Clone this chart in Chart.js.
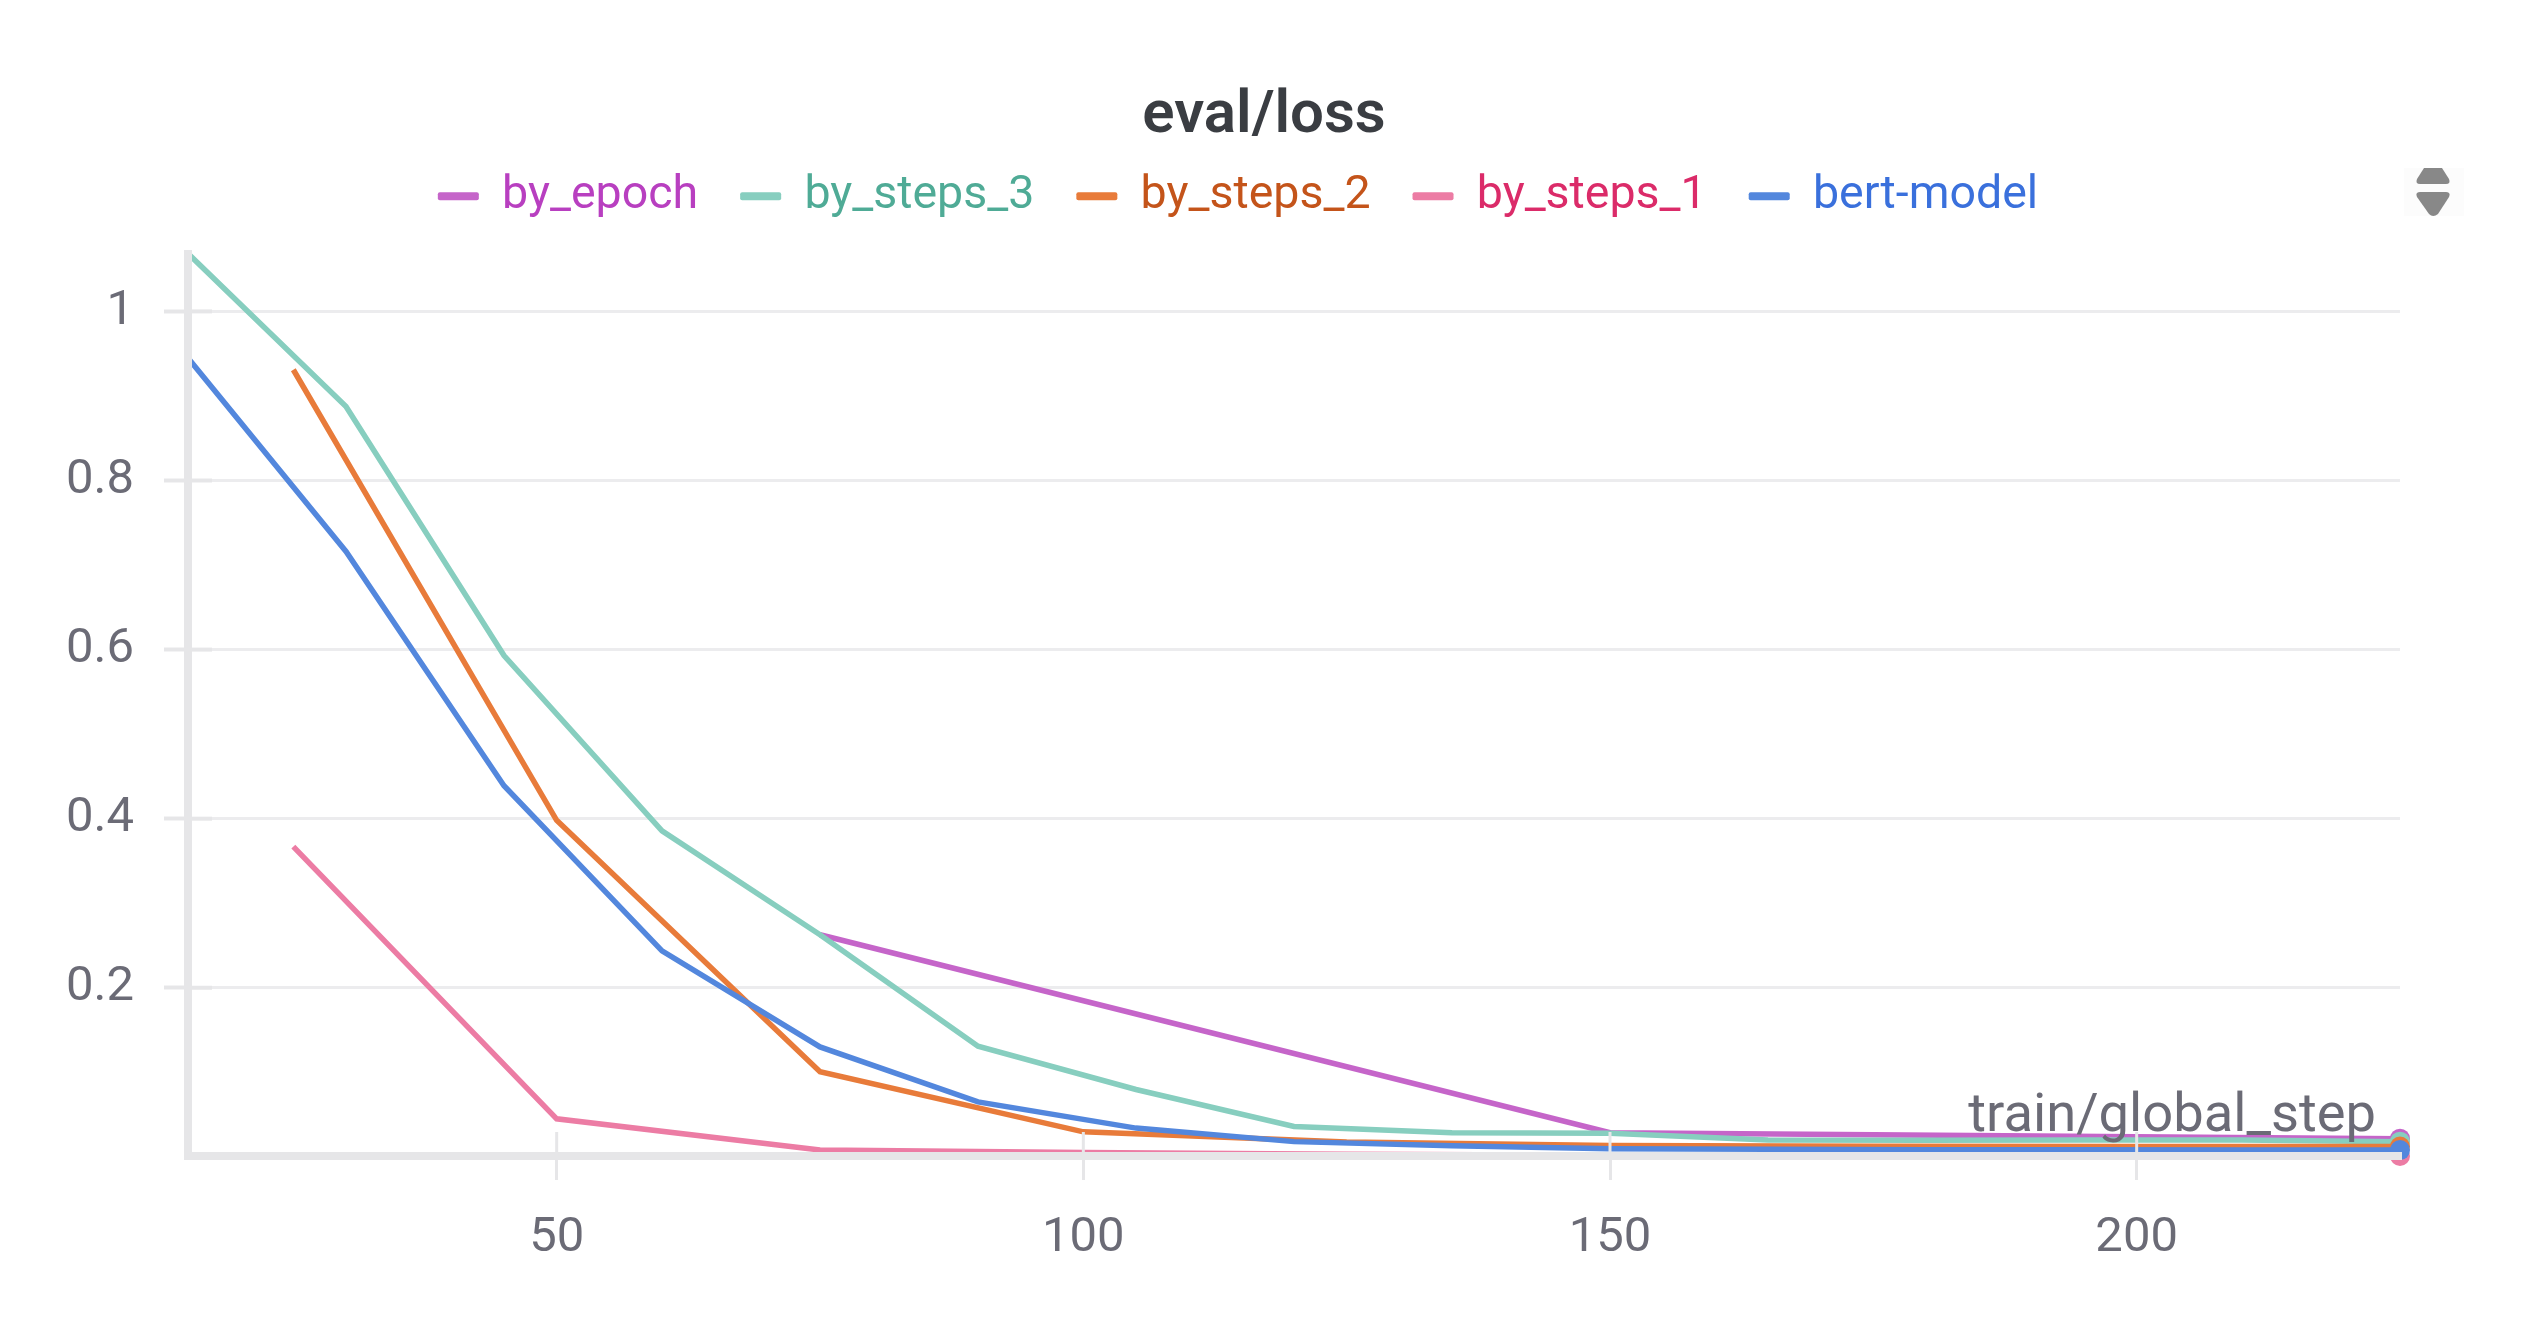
<!DOCTYPE html>
<html>
<head>
<meta charset="utf-8">
<style>
html,body{margin:0;padding:0;background:#fff;width:2528px;height:1328px;overflow:hidden}
#wrap{position:relative;width:2528px;height:1328px}
canvas{position:absolute;left:0;top:0}
#sortIcon{position:absolute;left:2404px;top:168px}
</style>
<script src="https://cdn.jsdelivr.net/npm/chart.js@4"></script>
</head>
<body>
<div id="wrap">
<canvas id="c" width="2528" height="1328" style="width:2528px;height:1328px"></canvas>
<svg id="sortIcon" width="60" height="48" viewBox="0 0 60 48">
<rect width="60" height="48" fill="#fcfcfc"/>
<path d="M20 0H38L45 11Q47 16 42 16H16Q11 16 13 11Z" fill="#888"/>
<path d="M16 24H42Q47 24 45 29L34 46Q29 50 25 46L13 29Q11 24 16 24Z" fill="#888"/>
</svg>
</div>
<script>
const chartTitle = 'eval/loss';
const xAxisLabel = 'train/global_step';
const xTicks = [50, 100, 150, 200];
const yTicks = [0.2, 0.4, 0.6, 0.8, 1];

const seriesNames = ['by_epoch', 'by_steps_3', 'by_steps_2', 'by_steps_1', 'bert-model'];

const byEpochSteps = [75, 150, 225];
const byEpochLoss = [0.2627, 0.0285, 0.0215];

const bySteps3Steps = [15, 30, 45, 60, 75, 90, 105, 120, 135, 150, 165, 180, 195, 210, 225];
const bySteps3Loss = [1.0686, 0.8875, 0.593, 0.3856, 0.2627, 0.1308, 0.0797, 0.036, 0.0285, 0.0278, 0.02, 0.0195, 0.02, 0.02, 0.018];

const bySteps2Steps = [25, 50, 75, 100, 125, 150, 175, 200, 225];
const bySteps2Loss = [0.931, 0.398, 0.1006, 0.0296, 0.0175, 0.0135, 0.0125, 0.0122, 0.0122];

const bySteps1Steps = [25, 50, 75, 100, 125, 150, 175, 200, 225];
const bySteps1Loss = [0.367, 0.045, 0.008, 0.005, 0.003, 0.002, 0.002, 0.002, 0.001];

const bertSteps = [15, 30, 45, 60, 75, 90, 105, 120, 135, 150, 165, 180, 195, 210, 225];
const bertLoss = [0.945, 0.716, 0.439, 0.2437, 0.13, 0.065, 0.034, 0.018, 0.013, 0.0095, 0.009, 0.0085, 0.0085, 0.008, 0.008];

const lineColors = ['#c565c9', '#87cebf', '#e87b3a', '#ec7ca4', '#5387dd'];
const textColors = ['#b83fc0', '#4fab96', '#c4541a', '#db2b69', '#3a70dc'];
const FONT = 'Roboto, sans-serif';
const GREY = '#e6e6e8';
const TICK_TEXT = '#6b6b76';

function pairs(xs, ys) { return xs.map((x, i) => ({x, y: ys[i]})); }
function ds(i, xs, ys) {
  return {
    label: seriesNames[i],
    data: pairs(xs, ys),
    borderColor: lineColors[i],
    backgroundColor: lineColors[i],
    borderWidth: 5.5,
    tension: 0,
    fill: false,
    clip: false,
    order: seriesNames.length - 1 - i,
    pointRadius: c => c.dataIndex === xs.length - 1 ? 10 : 0,
    pointBorderWidth: 0,
    pointHoverRadius: 0
  };
}

const overlay = {
  id: 'overlay',
  afterLayout(chart) {
    chart.titleBlock.left = 0;
    chart.titleBlock.right = 2528;
    chart.titleBlock.top -= 2;
    chart.legend.left = -26;
    chart.legend.right = 2502;
    chart.legend.top -= 24;
  },
  afterDraw(chart) {
    const c = chart.ctx, xs = chart.scales.x, ys = chart.scales.y;
    c.save();
    c.strokeStyle = GREY;
    c.lineWidth = 3;
    xTicks.forEach(v => {
      const p = xs.getPixelForValue(v);
      c.beginPath(); c.moveTo(p, xs.top - 24); c.lineTo(p, xs.top); c.stroke();
    });
    c.lineWidth = 4;
    yTicks.forEach(v => {
      const p = ys.getPixelForValue(v);
      c.beginPath(); c.moveTo(ys.right, p); c.lineTo(ys.right + 24, p); c.stroke();
    });
    c.fillStyle = TICK_TEXT;
    c.font = '54.3px ' + FONT;
    c.textAlign = 'right';
    c.textBaseline = 'alphabetic';
    c.fillText(xAxisLabel, 2376, 1131);
    c.restore();
  }
};

new Chart(document.getElementById('c'), {
  type: 'line',
  data: {
    datasets: [
      ds(0, byEpochSteps, byEpochLoss),
      ds(1, bySteps3Steps, bySteps3Loss),
      ds(2, bySteps2Steps, bySteps2Loss),
      ds(3, bySteps1Steps, bySteps1Loss),
      ds(4, bertSteps, bertLoss)
    ]
  },
  plugins: [overlay],
  options: {
    responsive: false,
    devicePixelRatio: 1,
    animation: false,
    events: [],
    layout: {padding: {left: 0, right: 128, top: 83, bottom: 0}},
    plugins: {
      tooltip: {enabled: false},
      title: {
        display: true,
        text: chartTitle,
        color: '#3a3d42',
        font: {family: FONT, size: 60, weight: '600'},
        padding: {top: 0, bottom: 0}
      },
      legend: {
        display: true,
        position: 'top',
        labels: {
          boxWidth: 41,
          boxHeight: 8,
          padding: 42,
          font: {family: FONT, size: 46.5},
          useBorderRadius: true,
          borderRadius: 2,
          generateLabels: () => seriesNames.map((n, i) => ({
            text: n,
            fillStyle: lineColors[i],
            strokeStyle: lineColors[i],
            fontColor: textColors[i],
            lineWidth: 0,
            borderRadius: 2,
            hidden: false,
            datasetIndex: i
          }))
        }
      }
    },
    scales: {
      x: {
        type: 'linear',
        min: 15,
        max: 225,
        afterBuildTicks: s => { s.ticks = xTicks.map(v => ({value: v})); },
        afterFit: s => { s.height = 172; },
        grid: {drawOnChartArea: false, color: GREY, lineWidth: 3, tickLength: 24, z: 1},
        border: {color: GREY, width: 8, z: 1},
        ticks: {
          color: TICK_TEXT,
          font: {family: FONT, size: 49},
          padding: 29,
          maxRotation: 0,
          autoSkip: false,
          callback: v => String(v)
        }
      },
      y: {
        type: 'linear',
        min: 0.001,
        max: 1.0685,
        afterBuildTicks: s => { s.ticks = yTicks.map(v => ({value: v})); },
        afterFit: s => { s.width = 188; },
        grid: {color: '#ececee', lineWidth: 3, tickLength: 24, tickColor: GREY, tickWidth: 4, z: -1},
        border: {color: GREY, width: 8, z: 1},
        ticks: {
          color: TICK_TEXT,
          font: {family: FONT, size: 49},
          padding: 30,
          autoSkip: false,
          callback: v => String(v)
        }
      }
    }
  }
});
</script>
</body>
</html>
